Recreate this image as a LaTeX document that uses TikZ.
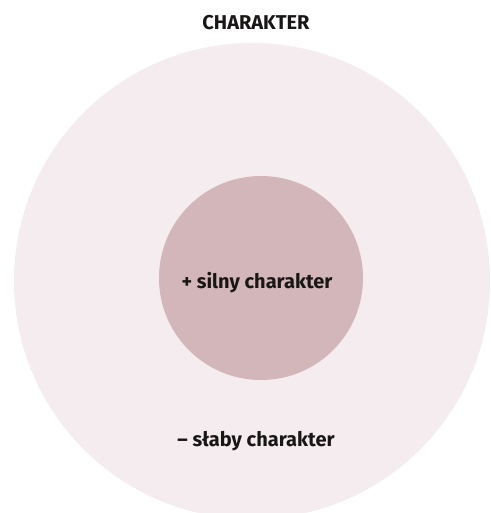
\documentclass[tikz,border=0pt]{standalone}
\usepackage{fontspec}
\setmainfont{Fira Sans}
\definecolor{outerfill}{RGB}{244,236,238}
\definecolor{innerfill}{RGB}{211,182,185}
\definecolor{txt}{RGB}{25,22,22}
\begin{document}
\begin{tikzpicture}[x=1pt,y=-1pt,
  lbl/.style={font=\fontsize{20}{24}\selectfont\bfseries, text=txt, inner sep=0pt}]
\useasboundingbox (0,0) rectangle (490,513);
\begin{scope}
\clip (0,0) rectangle (490,513);
\fill[outerfill] (252,281) circle[radius=238];
\end{scope}
\fill[innerfill] (261,278) circle[radius=102];
\node[lbl] (title) at (256,23) {CHARAKTER};
\node[lbl] (strong) at (257,283) {+ silny charakter};
\node[lbl] (weak) at (256,441) {– słaby charakter};
\end{tikzpicture}
\end{document}
